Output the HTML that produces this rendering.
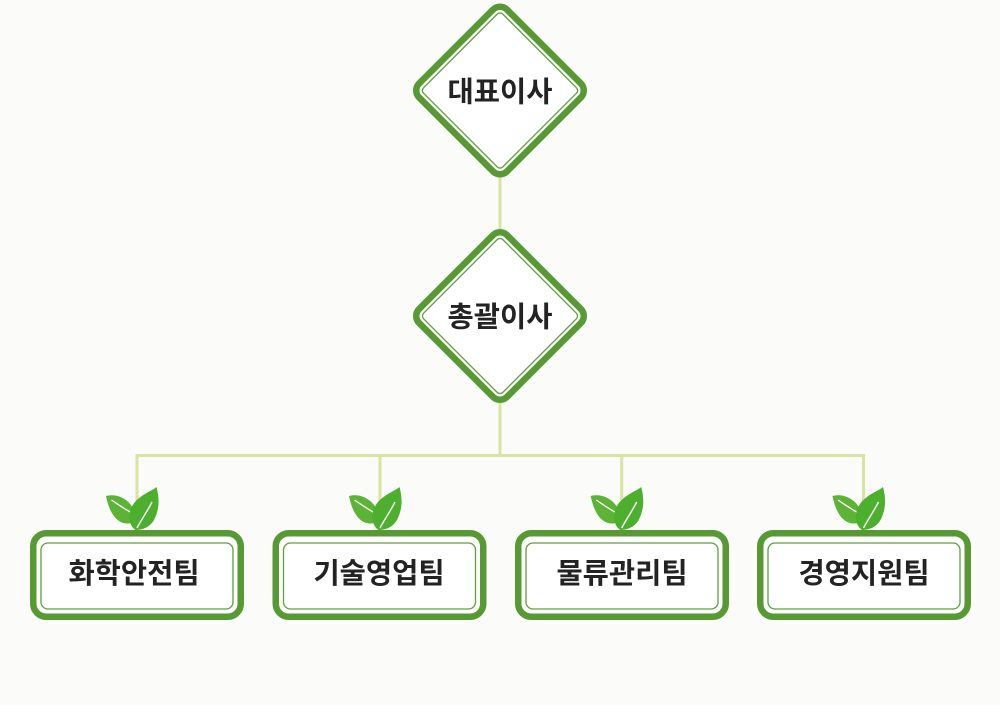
<!DOCTYPE html>
<html>
<head>
<meta charset="utf-8">
<style>
  html, body { margin: 0; padding: 0; background: #fbfbf9; }
  body { width: 1000px; height: 705px; overflow: hidden; }
  svg { display: block; }
  text { font-family: "Liberation Sans", "Noto Sans CJK KR", "NanumGothic", sans-serif; font-weight: 700; fill: #232323; }
</style>
</head>
<body>
<svg width="1000" height="705" viewBox="0 0 1000 705" xmlns="http://www.w3.org/2000/svg">
  <defs>
    <g id="leaf">
      <path d="M -31,-34 C -20,-37 -8,-31 -3,-20 L -5,-7 C -18,-4 -27,-14 -31,-34 Z" fill="#5cb336"/>
      <path d="M -25.5,-30 C -18,-25 -11,-20 -5,-17" stroke="#ffffff" stroke-width="1.3" fill="none"/>
      <path d="M -1.5,0 C -10,-6 -9,-20 -2,-28 C 5,-36 15,-39 19.5,-43 C 23,-30 22,-20 17,-10 C 13,-3 6,0 -1.5,0 Z" fill="#4caf2e"/>
      <path d="M 0,-2 C 4,-10 10,-18 15,-28" stroke="#ffffff" stroke-width="1.4" fill="none"/>
    </g>
    <g id="diamond">
      <rect x="-62.15" y="-62.15" width="124.3" height="124.3" rx="10" ry="10" fill="#ffffff" stroke="#579a33" stroke-width="6.5" transform="rotate(45)"/>
      <rect x="-56" y="-56" width="112" height="112" rx="4" ry="4" fill="none" stroke="#5f9f3d" stroke-width="1.3" transform="rotate(45)"/>
    </g>
    <g id="box">
      <rect x="3.25" y="3.25" width="207.5" height="83.5" rx="13" ry="13" fill="#ffffff" stroke="#579a33" stroke-width="6.5"/>
      <rect x="11" y="13" width="192" height="66" rx="7" ry="7" fill="none" stroke="#5f9f3d" stroke-width="1.3"/>
    </g>
  </defs>

  <!-- connectors -->
  <g stroke="#dbe3a2" stroke-width="3" fill="none">
    <line x1="500" y1="170" x2="500" y2="236"/>
    <line x1="500" y1="396" x2="500" y2="455.5"/>
    <line x1="137" y1="455.5" x2="864" y2="455.5"/>
    <line x1="137" y1="454" x2="137" y2="505"/>
    <line x1="380" y1="454" x2="380" y2="505"/>
    <line x1="621.7" y1="454" x2="621.7" y2="505"/>
    <line x1="863.5" y1="454" x2="863.5" y2="505"/>
  </g>

  <!-- diamonds -->
  <use href="#diamond" transform="translate(500,90.5)"/>
  <text x="500" y="101.5" font-size="28.5" text-anchor="middle">대표이사</text>

  <use href="#diamond" transform="translate(500,316)"/>
  <text x="500" y="326.5" font-size="28.5" text-anchor="middle">총괄이사</text>

  <!-- boxes -->
  <use href="#box" transform="translate(30,530)"/>
  <use href="#box" transform="translate(272.5,530)"/>
  <use href="#box" transform="translate(515,530)"/>
  <use href="#box" transform="translate(757,530)"/>

  <!-- leaves -->
  <use href="#leaf" transform="translate(137,530)"/>
  <use href="#leaf" transform="translate(380,530)"/>
  <use href="#leaf" transform="translate(621.7,530)"/>
  <use href="#leaf" transform="translate(863.5,530)"/>

  <text x="134" y="583" font-size="28.5" text-anchor="middle">화학안전팀</text>
  <text x="379" y="583" font-size="28.5" text-anchor="middle">기술영업팀</text>
  <text x="622" y="583" font-size="28.5" text-anchor="middle">물류관리팀</text>
  <text x="864" y="583" font-size="28.5" text-anchor="middle">경영지원팀</text>
</svg>
</body>
</html>
